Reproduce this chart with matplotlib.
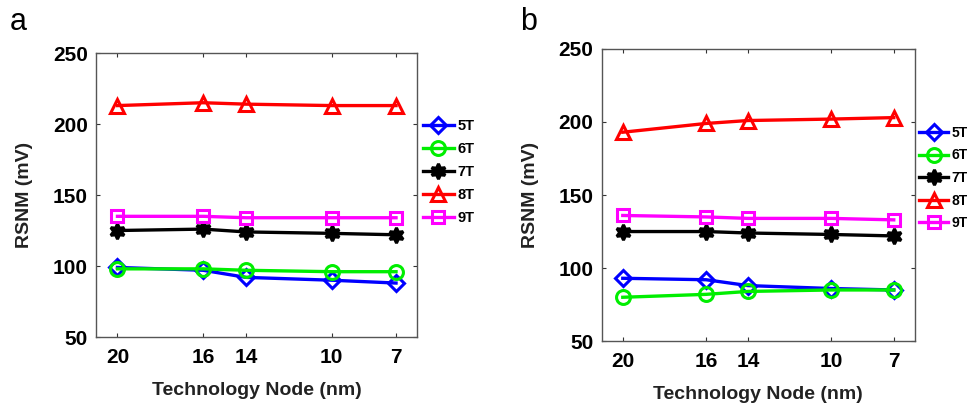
import matplotlib
matplotlib.use("Agg")
import matplotlib.pyplot as plt

plt.rcParams['font.family'] = ['Liberation Sans', 'DejaVu Sans']

# Technology nodes (nm)
nodes = [20, 16, 14, 10, 7]
cells = ['5T', '6T', '7T', '8T', '9T']

# RSNM (mV), panel a
rsnm_a = {
    '5T': [99, 97, 92, 90, 88],
    '6T': [98, 98, 97, 96, 96],
    '7T': [125, 126, 124, 123, 122],
    '8T': [213, 215, 214, 213, 213],
    '9T': [135, 135, 134, 134, 134],
}
# RSNM (mV), panel b
rsnm_b = {
    '5T': [93, 92, 88, 86, 85],
    '6T': [80, 82, 84, 85, 85],
    '7T': [125, 125, 124, 123, 122],
    '8T': [193, 199, 201, 202, 203],
    '9T': [136, 135, 134, 134, 133],
}

colors = {'5T': '#0000ff', '6T': '#00ee00', '7T': '#000000',
          '8T': '#ff0000', '9T': '#ff00ff'}
markers = {'5T': 'D', '6T': 'o', '7T': (6, 1, 0), '8T': '^', '9T': 's'}
msizes = {'5T': 8, '6T': 10, '7T': 11, '8T': 10, '9T': 9}
faces = {'5T': 'none', '6T': 'none', '7T': '#000000', '8T': 'none', '9T': 'none'}

fig = plt.figure(figsize=(9.74, 4.08), dpi=100)
ax_a = fig.add_axes([0.0986, 0.174, 0.330, 0.696])
ax_b = fig.add_axes([0.618, 0.164, 0.321, 0.716])


def draw(ax, data, leg_anchor, size=10.5):
    for c in cells:
        ax.plot(nodes, data[c], color=colors[c], lw=2.4,
                marker=markers[c], ms=msizes[c], mfc=faces[c],
                mec=colors[c], mew=2.2, label=c)
    ax.set_xlim(21, 6)
    ax.set_ylim(50, 250)
    ax.set_xticks(nodes)
    ax.set_yticks([50, 100, 150, 200, 250])
    ax.tick_params(direction='in', length=3, width=0.8, color='#333333',
                   top=True, right=True, labelsize=15)
    ax.tick_params(axis='x', pad=8)
    ax.tick_params(axis='y', pad=6)
    for lab in ax.get_xticklabels() + ax.get_yticklabels():
        lab.set_fontweight('bold')
    for s in ax.spines.values():
        s.set_color('#555555')
        s.set_linewidth(1.0)
    ax.set_xlabel('Technology Node (nm)', fontsize=14, fontweight='bold',
                  labelpad=11, color='#222222')
    ax.set_ylabel('RSNM (mV)', fontsize=14, fontweight='bold',
                  labelpad=14, color='#222222')
    leg = fig.legend(*ax.get_legend_handles_labels(), loc='center left',
                     bbox_to_anchor=leg_anchor, frameon=False,
                     prop={'weight': 'bold', 'size': size},
                     handlelength=2.1, handletextpad=0.25,
                     labelspacing=0.62, borderpad=0, borderaxespad=0)
    return leg


draw(ax_a, rsnm_a, (423 / 974, 1 - 172 / 408))
draw(ax_b, rsnm_b, (919 / 974, 1 - 178 / 408), size=10)

fig.text(10 / 974, 1 - 30 / 408, 'a', fontsize=22)
fig.text(520 / 974, 1 - 30 / 408, 'b', fontsize=22)

fig.savefig('out.png', dpi=100)
